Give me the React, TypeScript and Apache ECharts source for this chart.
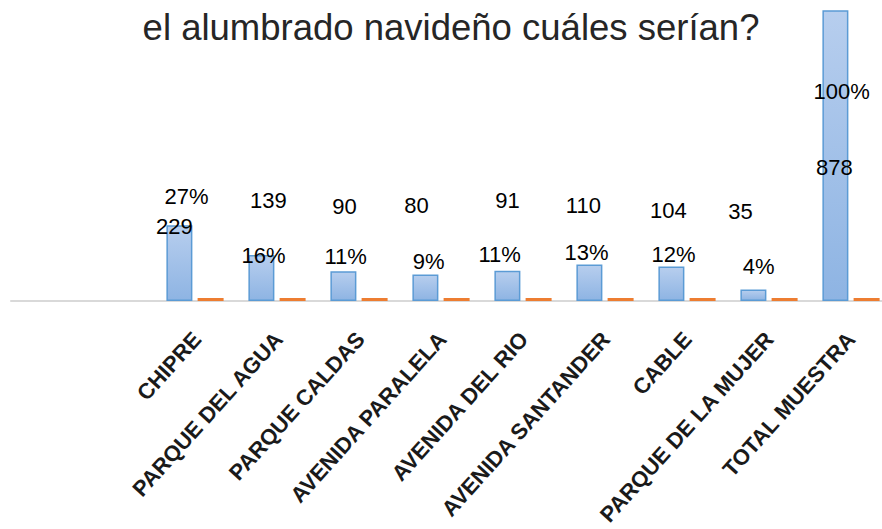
import React, { useEffect, useRef } from "react";
import * as echarts from "echarts";

const titleText = "el alumbrado navideño cuáles serían?";
const categories = [
  "CHIPRE",
  "PARQUE DEL AGUA",
  "PARQUE CALDAS",
  "AVENIDA PARALELA",
  "AVENIDA DEL RIO",
  "AVENIDA SANTANDER",
  "CABLE",
  "PARQUE DE LA MUJER",
  "TOTAL MUESTRA",
];
const counts = [229, 139, 90, 80, 91, 110, 104, 35, 878];
const percents = [27, 16, 11, 9, 11, 13, 12, 4, 100];

// label placement tweaks (manually moved labels in the original)
const countLabelOffsets = [
  [-5, 19], [7, -37], [1, -47], [-9, -52], [0, -53], [-6, -42], [-3, -39], [-13, -60], [-1, 175],
];
const pctLabelOffsets = [
  [-24, -84], [-29, -25], [-29, -24], [-28, -19], [-39, -26], [-34, -28], [-29, -26], [-26, -14], [-25, -189],
];

const labelFont = "'Liberation Sans', sans-serif";

export default function App() {
  const ref = useRef<HTMLDivElement>(null);
  useEffect(() => {
    document.body.style.margin = "0";
    document.body.style.overflow = "hidden";
    document.documentElement.style.overflow = "hidden";
    const chart = echarts.init(ref.current!, null, { renderer: "svg" });
    const baseLabel = {
      show: true,
      position: "top",
      distance: 5,
      fontFamily: labelFont,
      fontSize: 22,
      lineHeight: 25,
      color: "#000000",
    };
    chart.setOption({
      animation: false,
      backgroundColor: "#ffffff",
      title: {
        text: titleText,
        left: 446,
        top: 4,
        textAlign: "center",
        textStyle: {
          fontFamily: "'Liberation Sans', sans-serif",
          fontSize: 36.5,
          fontWeight: "normal",
          color: "#262626",
        },
      },
      grid: [
        { left: 154, right: 0, top: 3, bottom: 228 },
        { left: 156, right: -2, top: 3, bottom: 228 },
        { left: 11, right: 0, top: 3, bottom: 228 },
      ],
      xAxis: [
        {
          type: "category",
          gridIndex: 0,
          data: categories,
          axisLine: { show: false },
          axisTick: { show: false },
          axisLabel: { show: false },
        },
        {
          type: "category",
          gridIndex: 1,
          data: categories,
          axisLine: { show: false },
          axisTick: { show: false },
          axisLabel: {
            interval: 0,
            rotate: 48,
            margin: 36,
            fontFamily: labelFont,
            fontSize: 22,
            fontWeight: "bold",
            color: "#1a1a1a",
          },
        },
        {
          type: "value",
          gridIndex: 2,
          axisLine: { show: true, onZero: false, lineStyle: { color: "#D9D9D9", width: 2 } },
          axisTick: { show: false },
          axisLabel: { show: false },
          splitLine: { show: false },
        },
      ],
      yAxis: [
        { type: "value", gridIndex: 0, min: 0, max: 900, show: false },
        { type: "value", gridIndex: 1, show: false },
        { type: "value", gridIndex: 2, show: false },
      ],
      series: [
        {
          name: "Cantidad",
          type: "bar",
          xAxisIndex: 0,
          yAxisIndex: 0,
          barWidth: 26,
          barGap: "20%",
          z: 3,
          itemStyle: {
            color: new echarts.graphic.LinearGradient(0, 0, 0, 1, [
              { offset: 0, color: "#B7CEEE" },
              { offset: 1, color: "#8EB4E3" },
            ]),
            borderColor: "#5B9BD5",
            borderWidth: 1.5,
          },
          label: { ...baseLabel, formatter: "{c}" },
          data: counts.map((v, i) => ({ value: v, label: { offset: countLabelOffsets[i] } })),
        },
        {
          name: "Porcentaje",
          type: "bar",
          xAxisIndex: 0,
          yAxisIndex: 0,
          barWidth: 26,
          barMinHeight: 3,
          z: 3,
          itemStyle: { color: "#ED7D31" },
          label: {
            ...baseLabel,
            formatter: (p: any) => percents[p.dataIndex] + "%",
          },
          data: percents.map((v, i) => ({ value: v / 100, label: { offset: pctLabelOffsets[i] } })),
        },
      ],
    });
    return () => chart.dispose();
  }, []);
  return <div ref={ref} style={{ width: 892, height: 529 }} />;
}
